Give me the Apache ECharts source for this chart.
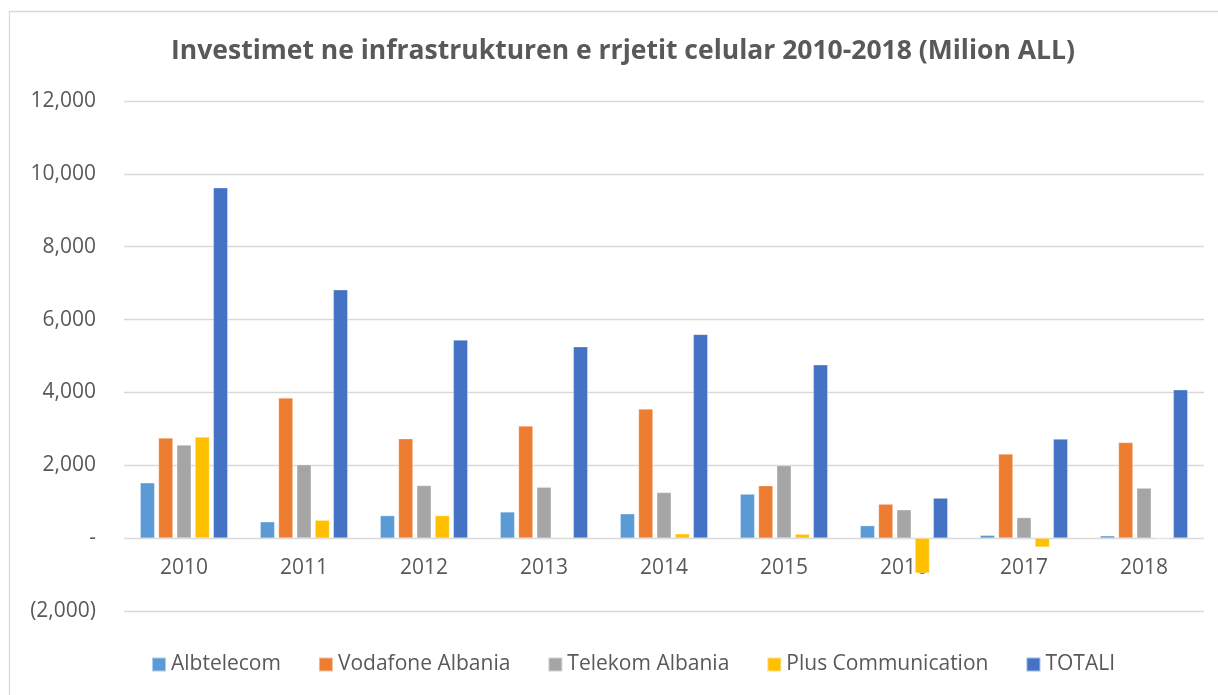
<!DOCTYPE html>
<html>
<head>
<meta charset="utf-8">
<script src="https://cdn.jsdelivr.net/npm/echarts@6/dist/echarts.min.js"></script>
<style>
html,body{margin:0;padding:0;background:#fff;}
#chart{width:1218px;height:695px;}
</style>
</head>
<body>
<div id="chart"></div>
<script>
const years = ['2010','2011','2012','2013','2014','2015','2016','2017','2018'];
const albtelecom = [1520, 450, 620, 720, 670, 1210, 345, 80, 65];
const vodafone = [2750, 3850, 2730, 3080, 3545, 1440, 935, 2310, 2625];
const telekom = [2555, 2015, 1445, 1400, 1255, 1995, 780, 565, 1375];
const plus = [2775, 495, 620, 20, 120, 110, -960, -245, 0];
const totali = [9620, 6820, 5440, 5255, 5595, 4760, 1100, 2720, 4075];
const seriesNames = ['Albtelecom','Vodafone Albania','Telekom Albania','Plus Communication','TOTALI'];
const colors = ['#5B9BD5','#ED7D31','#A5A5A5','#FFC000','#4472C4'];
const yTicks = {min: -2000, max: 12000, interval: 2000};

const FONT = '"Open Sans", "Liberation Sans", sans-serif';
const chart = echarts.init(document.getElementById('chart'));
const data = [albtelecom, vodafone, telekom, plus, totali];

function fmt(v){
  if (v === 0) return '-';
  const s = Math.abs(v).toLocaleString('en-US');
  return v < 0 ? '(' + s + ')' : s;
}

const gridTop = 101, gridBottom = 84, gridH = 695 - gridTop - gridBottom;
// distance from plot bottom (min) up to zero line, via the axis scale
const zeroOffset = gridH * (0 - yTicks.min) / (yTicks.max - yTicks.min);

chart.setOption({
  animation: false,
  backgroundColor: '#fff',
  color: colors,
  graphic: [{
    type: 'rect', left: 7, top: 9, silent: true,
    shape: {width: 1400, height: 900},
    style: {fill: 'none', stroke: '#d9d9d9', lineWidth: 1.3}
  }],
  title: {
    text: 'Investimet ne infrastrukturen e rrjetit celular 2010-2018 (Milion ALL)',
    left: 618, top: 33, textAlign: 'center',
    textStyle: {fontFamily: FONT, fontSize: 26.5, fontWeight: 'bold', color: '#595959'}
  },
  legend: {
    data: seriesNames,
    left: 146, top: 649,
    itemWidth: 14, itemHeight: 14, itemGap: 37,
    icon: 'rect',
    textStyle: {fontFamily: FONT, fontSize: 21, color: '#595959'}
  },
  grid: {left: 124, right: 14, top: gridTop, bottom: gridBottom, containLabel: false},
  xAxis: {
    type: 'category', data: years,
    offset: -zeroOffset,
    axisLine: {show: false},
    axisTick: {show: false},
    axisLabel: {fontFamily: FONT, fontSize: 21, color: '#595959', margin: 19}
  },
  yAxis: {
    type: 'value', min: yTicks.min, max: yTicks.max, interval: yTicks.interval,
    axisLine: {show: false}, axisTick: {show: false},
    splitLine: {lineStyle: {color: '#d9d9d9', width: 1.3}},
    axisLabel: {fontFamily: FONT, fontSize: 21, color: '#595959', margin: 28, formatter: fmt}
  },
  series: seriesNames.map((n, i) => ({
    name: n, type: 'bar', data: data[i],
    barCategoryGap: '27%', barGap: '26%',
    itemStyle: {color: colors[i], borderColor: 'rgba(255,255,255,0.5)', borderWidth: 0.6}
  }))
});
</script>
</body>
</html>
